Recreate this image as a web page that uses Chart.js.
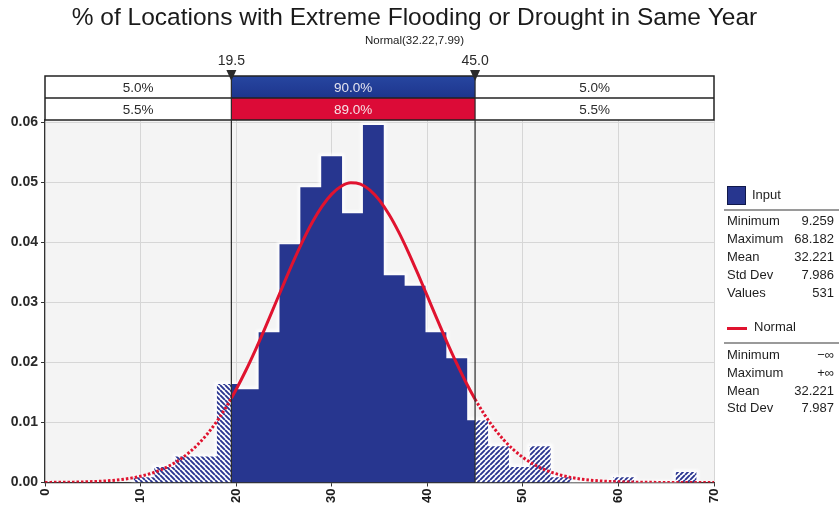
<!DOCTYPE html>
<html>
<head>
<meta charset="utf-8">
<script src="https://cdn.jsdelivr.net/npm/chart.js@4.4.1/dist/chart.umd.min.js"></script>
<style>
  html, body { margin: 0; padding: 0; background: #ffffff; }
  #wrap { position: relative; width: 839px; height: 515px; overflow: hidden; }
  #c { position: absolute; left: 0; top: 0; }
  .lg { position: absolute; font: 13px "Liberation Sans", Arial, sans-serif; color: #1e1e1e; white-space: nowrap; }
  .lg-name { left: 727px; }
  .lg-val { right: 5px; text-align: right; }
  .lg-sep { position: absolute; left: 724px; width: 115px; height: 0; border-top: 2px solid #9a9a9a; }
</style>
</head>
<body>
<div id="wrap">
  <canvas id="c" width="839" height="515"></canvas>
  <div id="legend"></div>
</div>
<script>
// Histogram of the input: 27 equal bins from the minimum to the maximum value
const binEdges = [9.259, 11.441, 13.624, 15.806, 17.988, 20.171, 22.353, 24.535, 26.718, 28.900,
                  31.082, 33.265, 35.447, 37.629, 39.812, 41.994, 44.176, 46.359, 48.541, 50.723,
                  52.906, 55.088, 57.270, 59.453, 61.635, 63.817, 66.000, 68.182];
const binDensity = [0.00086, 0.00259, 0.00432, 0.00432, 0.01640, 0.01554, 0.02503, 0.03970, 0.04920,
                    0.05437, 0.04488, 0.05955, 0.03452, 0.03280, 0.02503, 0.02071, 0.01036, 0.00604,
                    0.00259, 0.00604, 0.00086, 0, 0, 0.00086, 0, 0, 0.00173];

// Delimiters and the probability bands between them
const lowerCut = 19.5;
const upperCut = 45.0;
const cutLabels = ['19.5', '45.0'];
const inputBand = ['5.0%', '90.0%', '5.0%'];
const normalBand = ['5.5%', '89.0%', '5.5%'];

// Fitted Normal(32.22, 7.99) density
const curveX = [0, 1, 2, 3, 4, 5, 6, 7, 8, 9, 10, 11, 12, 13, 14, 15, 16, 17, 18, 19, 19.5,
                20, 21, 22, 23, 24, 25, 26, 27, 28, 29, 30, 31, 32, 33, 34, 35, 36, 37, 38, 39,
                40, 41, 42, 43, 44, 45, 46, 47, 48, 49, 50, 51, 52, 53, 54, 55, 56, 57, 58, 59,
                60, 61, 62, 63, 64, 65, 66, 67, 68, 69, 70];
const curveY = [0.000015, 0.000024, 0.000039, 0.000062, 0.000097, 0.000150, 0.000228, 0.000341,
                0.000503, 0.000730, 0.001042, 0.001464, 0.002026, 0.002761, 0.003702, 0.004887,
                0.006352, 0.008127, 0.010236, 0.012693, 0.014050,
                0.015493, 0.018618, 0.022026, 0.025651, 0.029408, 0.033192, 0.036880, 0.040341,
                0.043439, 0.046048, 0.048055, 0.049369, 0.049930, 0.049712, 0.048725, 0.047015,
                0.044659, 0.041762, 0.038446, 0.034842, 0.031085, 0.027301, 0.023605, 0.020092,
                0.016836, 0.013888, 0.011279, 0.009016, 0.007096, 0.005498, 0.004193, 0.003149,
                0.002327, 0.001694, 0.001213, 0.000856, 0.000594, 0.000406, 0.000273, 0.000181,
                0.000118, 0.000076, 0.000048, 0.000030, 0.000018, 0.000011, 0.000007, 0.000004,
                0.000002, 0.000001, 0.000001];

// Axis ticks
const xTicks = [0, 10, 20, 30, 40, 50, 60, 70];
const yTicks = [0, 0.01, 0.02, 0.03, 0.04, 0.05, 0.06];

// Side panel statistics
const inputStats = [['Minimum', '9.259'], ['Maximum', '68.182'], ['Mean', '32.221'], ['Std Dev', '7.986'], ['Values', '531']];
const normalStats = [['Minimum', '\u2212\u221E'], ['Maximum', '+\u221E'], ['Mean', '32.221'], ['Std Dev', '7.987']];

const BLUE = '#27368f';
const RED = '#e0132f';
const FONT = '"Liberation Sans", Arial, sans-serif';

const canvas = document.getElementById('c');
const ctx0 = canvas.getContext('2d');

function hatchPattern(up) {
  const s = 5;
  const tile = document.createElement('canvas');
  tile.width = s; tile.height = s;
  const g = tile.getContext('2d');
  g.fillStyle = '#ffffff';
  g.fillRect(0, 0, s, s);
  g.strokeStyle = '#2a3590';
  g.lineWidth = 1.9;
  g.beginPath();
  for (const k of [-s, 0, s]) {
    if (up) { g.moveTo(k, s); g.lineTo(k + s, 0); }
    else { g.moveTo(k, 0); g.lineTo(k + s, s); }
  }
  g.stroke();
  return ctx0.createPattern(tile, 'repeat');
}

// Step outline of the histogram between two x positions
function stepPoints(a, b) {
  const pts = [];
  for (let i = 0; i < binDensity.length; i++) {
    const lo = binEdges[i], hi = binEdges[i + 1];
    if (hi <= a || lo >= b) continue;
    pts.push({ x: Math.max(lo, a), y: binDensity[i] });
  }
  pts.push({ x: b, y: pts[pts.length - 1].y });
  return pts;
}

const histStyle = {
  type: 'line', stepped: 'before', fill: 'origin', borderWidth: 1,
  borderColor: 'rgba(0,0,0,0)', pointRadius: 0, pointHoverRadius: 0, tension: 0
};

const first = binEdges[0];
const last = binEdges[binEdges.length - 1];
const outline = [{ x: first, y: 0 }].concat(stepPoints(first, last), [{ x: last, y: 0 }]);

const plotBackground = {
  id: 'plotBackground',
  beforeDraw(chart) {
    const { ctx, chartArea: a } = chart;
    ctx.save();
    ctx.fillStyle = '#f4f4f4';
    ctx.fillRect(a.left, a.top, a.right - a.left, a.bottom - a.top);
    ctx.restore();
  }
};

// Soft white glow around the histogram outline
const softGlow = {
  id: 'softGlow',
  beforeDatasetDraw(chart, args) {
    if (args.meta.label === 'glow') chart.ctx.filter = 'blur(1.5px)';
  },
  afterDatasetDraw(chart, args) {
    if (args.meta.label === 'glow') chart.ctx.filter = 'none';
  }
};

// Delimiter lines, markers and the two probability rows above the plot
const bandOverlay = {
  id: 'bandOverlay',
  afterDatasetsDraw(chart) {
    const { ctx, chartArea: a, scales: { x } } = chart;
    const xl = x.getPixelForValue(lowerCut);
    const xr = x.getPixelForValue(upperCut);
    const top = 76, mid = 98, bot = a.top;
    ctx.save();

    const gBlue = ctx.createLinearGradient(0, top, 0, mid);
    gBlue.addColorStop(0, '#2746a0');
    gBlue.addColorStop(1, '#1d358d');
    ctx.fillStyle = '#ffffff';
    ctx.fillRect(a.left, top, a.right - a.left, bot - top);
    ctx.fillStyle = gBlue;
    ctx.fillRect(xl, top, xr - xl, mid - top);
    ctx.fillStyle = '#dc0b37';
    ctx.fillRect(xl, mid, xr - xl, bot - mid);

    ctx.strokeStyle = '#222222';
    ctx.lineWidth = 1.5;
    ctx.strokeRect(a.left, top, a.right - a.left, bot - top);
    ctx.beginPath();
    ctx.moveTo(a.left, mid); ctx.lineTo(a.right, mid);
    ctx.stroke();

    ctx.lineWidth = 1.2;
    ctx.strokeStyle = '#2a2a2a';
    ctx.beginPath();
    for (const px of [xl, xr]) { ctx.moveTo(px, top); ctx.lineTo(px, a.bottom); }
    ctx.stroke();

    ctx.font = '13.5px ' + FONT;
    ctx.textAlign = 'center';
    ctx.textBaseline = 'middle';
    const cx = [(a.left + xl) / 2, (xl + xr) / 2, (xr + a.right) / 2];
    inputBand.forEach((t, i) => {
      ctx.fillStyle = i === 1 ? '#e4e4f0' : '#2a2a2a';
      ctx.fillText(t, cx[i], (top + mid) / 2 + 1);
    });
    normalBand.forEach((t, i) => {
      ctx.fillStyle = i === 1 ? '#f5e2e6' : '#2a2a2a';
      ctx.fillText(t, cx[i], (mid + bot) / 2 + 1);
    });

    ctx.fillStyle = '#2a2a2a';
    ctx.font = '14px ' + FONT;
    [xl, xr].forEach((px, i) => {
      ctx.beginPath();
      ctx.moveTo(px - 5, 70);
      ctx.lineTo(px + 5, 70);
      ctx.lineTo(px, 81);
      ctx.closePath();
      ctx.fill();
      ctx.fillText(cutLabels[i], px, 61);
    });
    ctx.restore();
  }
};

new Chart(canvas, {
  type: 'line',
  data: {
    datasets: [
      {
        type: 'line', label: 'Normal',
        data: curveX.map((v, i) => ({ x: v, y: curveY[i] })),
        borderColor: RED, borderWidth: 3, pointRadius: 0, pointHoverRadius: 0,
        fill: false, cubicInterpolationMode: 'monotone', borderCapStyle: 'butt',
        segment: {
          borderDash: c => (c.p1.parsed.x <= lowerCut || c.p0.parsed.x >= upperCut) ? [2.5, 2] : undefined
        },
        order: 0
      },
      Object.assign({ label: 'Input (left tail)', data: stepPoints(first, lowerCut), backgroundColor: hatchPattern(false), order: 2 }, histStyle),
      Object.assign({ label: 'Input', data: stepPoints(lowerCut, upperCut), backgroundColor: BLUE, order: 2 }, histStyle),
      Object.assign({ label: 'Input (right tail)', data: stepPoints(upperCut, last), backgroundColor: hatchPattern(true), order: 2 }, histStyle),
      {
        type: 'line', label: 'glow', data: outline, stepped: 'before', fill: false,
        borderColor: 'rgba(255,255,255,0.85)', borderWidth: 5, pointRadius: 0, pointHoverRadius: 0,
        tension: 0, order: 3
      }
    ]
  },
  options: {
    responsive: false,
    animation: false,
    events: [],
    layout: { padding: { left: 0, right: 10, top: 0, bottom: 0 } },
    plugins: {
      legend: { display: false },
      tooltip: { enabled: false },
      title: {
        display: true,
        text: '% of Locations with Extreme Flooding or Drought in Same Year',
        color: '#1a1a1a',
        font: { family: FONT, size: 24.5, weight: 'normal', lineHeight: 1.2 },
        padding: { top: 4, bottom: 1 }
      },
      subtitle: {
        display: true,
        text: 'Normal(32.22,7.99)',
        color: '#1a1a1a',
        font: { family: FONT, size: 11.5, weight: 'normal', lineHeight: 1.2 },
        padding: { top: 0, bottom: 71.8 }
      }
    },
    scales: {
      x: {
        type: 'linear', min: 0, max: 70,
        afterBuildTicks: s => { s.ticks = xTicks.map(v => ({ value: v })); },
        afterFit: s => { s.height = 32.5; },
        ticks: {
          minRotation: 90, maxRotation: 90, padding: 2,
          color: '#1a1a1a', font: { family: FONT, size: 13, weight: 'bold' }
        },
        grid: { color: '#d6d6d6', lineWidth: 1, tickLength: 4, tickColor: '#333333' },
        border: { display: true, color: '#333333', width: 1.2 }
      },
      y: {
        type: 'linear', min: 0, max: 0.0604,
        afterBuildTicks: s => { s.ticks = yTicks.map(v => ({ value: v })); },
        afterFit: s => { s.width = 45; },
        ticks: {
          padding: 3, color: '#2a2a2a',
          font: { family: FONT, size: 14, weight: 'bold' },
          callback: v => v.toFixed(2)
        },
        grid: { color: '#d6d6d6', lineWidth: 1, tickLength: 4, tickColor: '#333333' },
        border: { display: true, color: '#333333', width: 1.2 }
      },
      side: {
        type: 'linear', position: 'right', display: true,
        afterFit: s => { s.width = 115; },
        ticks: { display: false },
        grid: { display: false },
        border: { display: false }
      }
    }
  },
  plugins: [plotBackground, softGlow, bandOverlay]
});

// Side panel: series keys and summary statistics
(function buildPanel() {
  const box = document.getElementById('legend');
  let html = '';
  html += '<div style="position:absolute;left:727px;top:186px;width:17px;height:17px;background:' + BLUE + ';border:1px solid #10184a;"></div>';
  html += '<div class="lg" style="left:752px;top:187px;">Input</div>';
  html += '<div class="lg-sep" style="top:209px;"></div>';
  inputStats.forEach((r, i) => {
    const t = 213 + i * 18.1;
    html += '<div class="lg lg-name" style="top:' + t + 'px;">' + r[0] + '</div>';
    html += '<div class="lg lg-val" style="top:' + t + 'px;">' + r[1] + '</div>';
  });
  html += '<div style="position:absolute;left:727px;top:327px;width:20px;height:3px;background:' + RED + ';"></div>';
  html += '<div class="lg" style="left:754px;top:319px;">Normal</div>';
  html += '<div class="lg-sep" style="top:342px;"></div>';
  normalStats.forEach((r, i) => {
    const t = 347 + i * 17.8;
    html += '<div class="lg lg-name" style="top:' + t + 'px;">' + r[0] + '</div>';
    html += '<div class="lg lg-val" style="top:' + t + 'px;">' + r[1] + '</div>';
  });
  box.innerHTML = html;
})();
</script>
</body>
</html>
